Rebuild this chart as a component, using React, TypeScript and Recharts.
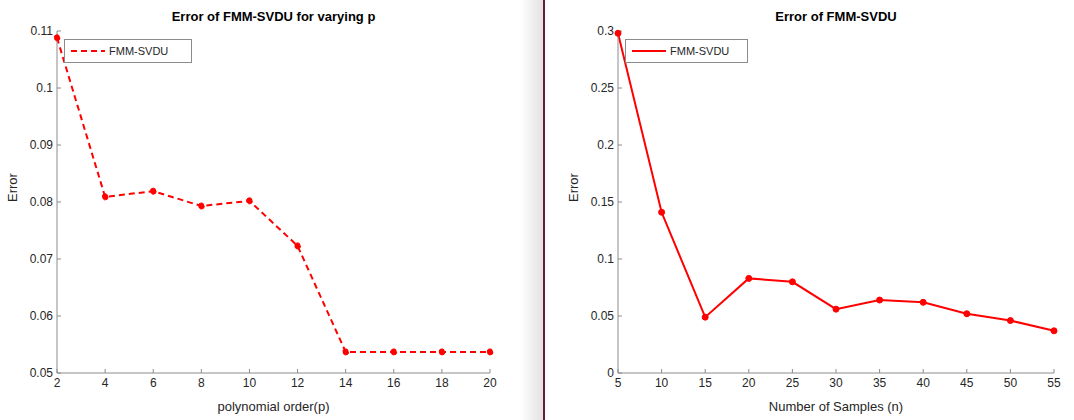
import { LineChart, Line, XAxis, YAxis } from 'recharts';

const pOrders = [2, 4, 6, 8, 10, 12, 14, 16, 18, 20];
const pErrors = [0.1088, 0.0809, 0.0819, 0.0793, 0.0802, 0.0723, 0.0537, 0.0537, 0.0537, 0.0537];
const pYTicks = [0.05, 0.06, 0.07, 0.08, 0.09, 0.1, 0.11];

const samples = [5, 10, 15, 20, 25, 30, 35, 40, 45, 50, 55];
const sErrors = [0.298, 0.141, 0.049, 0.083, 0.080, 0.056, 0.064, 0.062, 0.052, 0.046, 0.037];
const sYTicks = [0, 0.05, 0.1, 0.15, 0.2, 0.25, 0.3];

const leftData = pOrders.map((p, i) => ({ x: p, y: pErrors[i] }));
const rightData = samples.map((n, i) => ({ x: n, y: sErrors[i] }));

const AX = '#8c8c8c';
const TXT = '#262626';
const FONT = '"Liberation Sans", Arial, sans-serif';
const tickStyle = { fontSize: 12, fill: TXT, fontFamily: FONT };
const fmt = (v: number) => String(Math.round(v * 1000) / 1000);

function Panel(props: {
  left: number; width: number; yWidth: number; data: { x: number; y: number }[];
  xDomain: [number, number]; xTicks: number[]; yDomain: [number, number]; yTicks: number[];
  title: string; xLabel: string; dashed: boolean; legendW: number;
}) {
  const { left, width, yWidth, data, xDomain, xTicks, yDomain, yTicks, title, xLabel, dashed, legendW } = props;
  const plotW = width - yWidth - 20;
  return (
    <div style={{ position: 'absolute', left, top: 0, width, height: 420 }}>
      <div style={{ position: 'absolute', left: yWidth, width: plotW, top: 9, textAlign: 'center', fontFamily: FONT, fontWeight: 'bold', fontSize: 13, color: '#000' }}>{title}</div>
      <LineChart width={width} height={420} data={data} margin={{ top: 31, right: 20, bottom: 0, left: 0 }}>
        <XAxis dataKey="x" type="number" domain={xDomain} ticks={xTicks} stroke={AX} tick={tickStyle}
          tickSize={-4} tickMargin={9} height={47}
          label={{ value: xLabel, position: 'insideBottom', offset: 9, fontSize: 13, fill: TXT, fontFamily: FONT }} />
        <XAxis xAxisId="top" orientation="top" dataKey="x" type="number" domain={xDomain} ticks={xTicks} stroke={AX} tick={false} height={0} />
        <YAxis dataKey="y" type="number" domain={yDomain} ticks={yTicks} stroke={AX} tick={tickStyle}
          tickSize={-4} tickMargin={8} width={yWidth} tickFormatter={fmt} interval={0}
          label={{ value: 'Error', angle: -90, position: 'insideLeft', offset: yWidth - 45, fontSize: 13, fill: TXT, fontFamily: FONT }} />
        <YAxis yAxisId="right" orientation="right" type="number" domain={yDomain} stroke={AX} tick={false} width={0} />
        <Line dataKey="y" stroke="#ff0000" strokeWidth={2} strokeDasharray={dashed ? '6 4' : undefined}
          dot={{ r: 3, fill: '#ff0000', stroke: '#ff0000', strokeWidth: 1 }} isAnimationActive={false} />
      </LineChart>
      <div style={{ position: 'absolute', left: yWidth + 7, top: 39, width: legendW, height: 22, border: `1px solid ${AX}`, background: '#fff', fontFamily: FONT, fontSize: 11, color: TXT, display: 'flex', alignItems: 'center' }}>
        <svg width={40} height={10} style={{ marginLeft: 4 }}>
          <line x1={2} y1={5} x2={36} y2={5} stroke="#ff0000" strokeWidth={2} strokeDasharray={dashed ? '6 4' : undefined} />
        </svg>
        <span>FMM-SVDU</span>
      </div>
    </div>
  );
}

export default function App() {
  return (
    <div style={{ position: 'fixed', left: 0, top: 0, width: 1074, height: 420, background: '#fff', overflow: 'hidden' }}>
      <div style={{ position: 'absolute', left: 520, top: 0, width: 23, height: 420, background: 'linear-gradient(to right, #ffffff, #e2e2e2)' }} />
      <div style={{ position: 'absolute', left: 543, top: 0, width: 2, height: 420, background: '#6b1a33' }} />
      <Panel left={0} width={510} yWidth={57} data={leftData} xDomain={[2, 20]} xTicks={pOrders}
        yDomain={[0.05, 0.11]} yTicks={pYTicks} title="Error of FMM-SVDU for varying p"
        xLabel="polynomial order(p)" dashed legendW={126} />
      <Panel left={544} width={530} yWidth={74} data={rightData} xDomain={[5, 55]} xTicks={samples}
        yDomain={[0, 0.3]} yTicks={sYTicks} title="Error of FMM-SVDU"
        xLabel="Number of Samples (n)" dashed={false} legendW={121} />
    </div>
  );
}
